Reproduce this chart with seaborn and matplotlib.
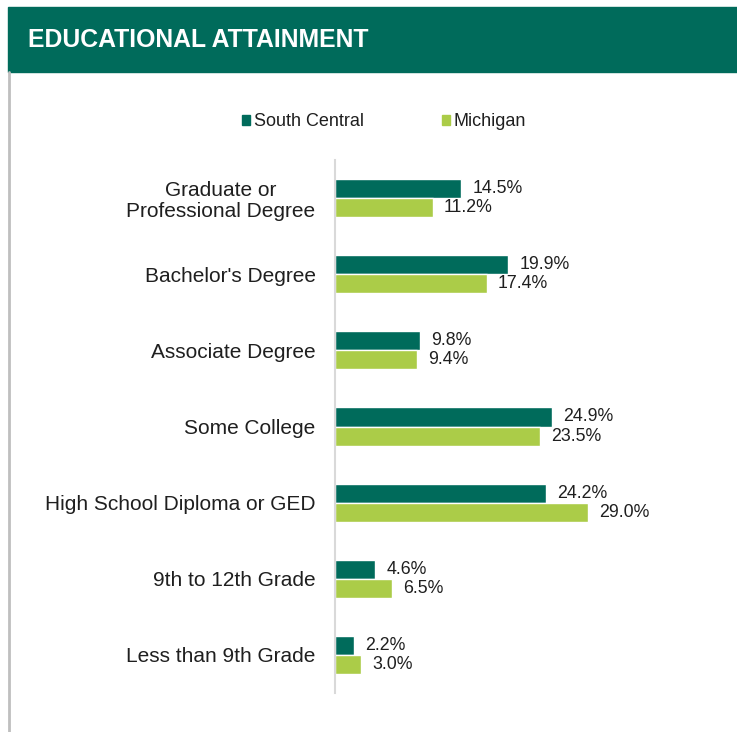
import pandas as pd
import matplotlib.pyplot as plt
import seaborn as sns
from matplotlib.patches import Rectangle
from matplotlib.lines import Line2D

# data
categories = ["Graduate or\nProfessional Degree", "Bachelor's Degree", "Associate Degree",
              "Some College", "High School Diploma or GED", "9th to 12th Grade",
              "Less than 9th Grade"]
south_central = [14.5, 19.9, 9.8, 24.9, 24.2, 4.6, 2.2]
michigan = [11.2, 17.4, 9.4, 23.5, 29.0, 6.5, 3.0]
series = ["South Central", "Michigan"]

DARK = "#006B5B"
LIGHT = "#ABCC48"
TXT = "#1f1f1f"

df = pd.DataFrame({
    "category": categories * 2,
    "value": south_central + michigan,
    "area": [series[0]] * len(categories) + [series[1]] * len(categories),
})

sns.set_style("white")
plt.rcParams["font.family"] = ["Liberation Sans", "DejaVu Sans"]

fig = plt.figure(figsize=(7.37, 7.32), dpi=100)
ax = fig.add_axes([335 / 737, 39 / 732, 392 / 737, 533 / 732])

sns.barplot(data=df, y="category", x="value", hue="area", order=categories,
            hue_order=series, palette=[DARK, LIGHT], width=0.5, orient="h",
            saturation=1, ax=ax, legend=False)

for cont in ax.containers:
    ax.bar_label(cont, fmt="%.1f%%", padding=8, fontsize=12.8, color=TXT)

ax.set_xlim(0, 45)
ax.set_xlabel("")
ax.set_ylabel("")
ax.set_xticks([])
ax.tick_params(axis="y", length=0, pad=14, labelsize=15, labelcolor=TXT)
for lab in ax.get_yticklabels():
    lab.set_multialignment("center")
    lab.set_linespacing(1.1)
for s in ["top", "right", "bottom"]:
    ax.spines[s].set_visible(False)
ax.spines["left"].set_color("#D9D9D9")
ax.spines["left"].set_linewidth(1.5)

# header band and left frame line
fig.patches.append(Rectangle((8 / 737, 1 - 72 / 732), 1, 65 / 732, transform=fig.transFigure,
                             color="#006B5B", zorder=0))
fig.text(28 / 737, 1 - 40 / 732, "EDUCATIONAL ATTAINMENT", color="white", fontsize=17.8,
         fontweight="bold", va="center", ha="left")
fig.lines.append(Line2D([9 / 737, 9 / 737], [0, 1 - 72 / 732], transform=fig.transFigure,
                        color="#BFBFBF", lw=2))

handles = [Rectangle((0, 0), 1, 1, color=DARK), Rectangle((0, 0), 1, 1, color=LIGHT)]
fig.legend(handles, series, loc="center", bbox_to_anchor=(384 / 737, 1 - 122 / 732), ncol=2,
           frameon=False, fontsize=13, handlelength=0.45, handleheight=0.5,
           handletextpad=0.2, columnspacing=4.3, labelcolor=TXT)

fig.savefig("out.png", dpi=100)
